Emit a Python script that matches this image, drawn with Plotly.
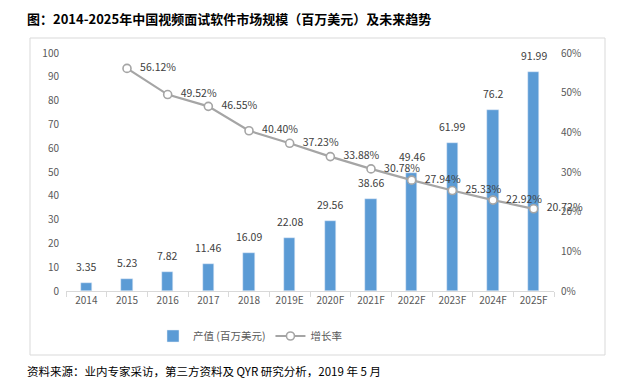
import plotly.graph_objects as go

categories = ["2014", "2015", "2016", "2017", "2018", "2019E", "2020F",
              "2021F", "2022F", "2023F", "2024F", "2025F"]
output_values = [3.35, 5.23, 7.82, 11.46, 16.09, 22.08, 29.56, 38.66, 49.46, 61.99, 76.2, 91.99]
growth_categories = categories[1:]
growth_pct = [56.12, 49.52, 46.55, 40.40, 37.23, 33.88, 30.78, 27.94, 25.33, 22.92, 20.72]
bar_labels = ["3.35", "5.23", "7.82", "11.46", "16.09", "22.08", "29.56", "38.66",
              "49.46", "61.99", "76.2", "91.99"]

title_text = "图：2014-2025年中国视频面试软件市场规模（百万美元）及未来趋势"
source_text = "资料来源：业内专家采访，第三方资料及 QYR 研究分析，2019 年 5 月"

FONT = "Noto Sans CJK SC"
OFF = 8  # page body margin
W, H = 640 - 2 * OFF, 392 - 2 * OFF
# plot area in page pixels
PL, PR, PT, PB = 66, 554, 53, 291
L, R, T, B = PL - OFF, W - (PR - OFF), PT - OFF, H - (PB - OFF)
pw, ph = PR - PL, PB - PT


def px(x):
    return (x - PL) / pw


def py(y):
    return (PB - y) / ph


fig = go.Figure()
fig.add_trace(go.Bar(
    x=categories, y=output_values, name="产值 (百万美元)",
    marker=dict(color="#5B9BD5"), width=0.28,
    yaxis="y",
))
fig.add_trace(go.Scatter(
    x=growth_categories, y=growth_pct, name="增长率",
    mode="lines+markers+text",
    line=dict(color="#A5A5A5", width=2.2),
    marker=dict(size=8, color="white", line=dict(color="#A5A5A5", width=1.6)),
    text=[f"   {v:.2f}%" for v in growth_pct], textposition="middle right",
    textfont=dict(size=10.5, color="#404040", family=FONT),
    cliponaxis=False, yaxis="y2",
))

annotations = [
    dict(x=i, y=v, xref="x", yref="y", text=t, showarrow=False,
         yanchor="bottom", yshift=7,
         font=dict(size=10.5, color="#404040", family=FONT))
    for i, (v, t) in enumerate(zip(output_values, bar_labels))
]
annotations += [
    dict(text=f"<b>{title_text}</b>", xref="paper", yref="paper",
         x=px(25), y=py(18), xanchor="left", yanchor="middle", showarrow=False,
         font=dict(size=13, color="#000000", family=FONT)),
    dict(text=source_text, xref="paper", yref="paper",
         x=px(25), y=py(371), xanchor="left", yanchor="middle", showarrow=False,
         font=dict(size=11.5, color="#000000", family=FONT)),
]

fig.update_layout(
    width=W, height=H,
    margin=dict(l=L, r=R, t=T, b=B, pad=0),
    paper_bgcolor="white", plot_bgcolor="white",
    font=dict(family=FONT, color="#595959", size=10),
    bargap=0.0,
    xaxis=dict(
        type="category", categoryorder="array", categoryarray=categories,
        range=[-0.5, len(categories) - 0.5],
        showgrid=False, showline=True, linecolor="#D9D9D9",
        ticks="outside", tickson="boundaries", ticklen=5, tickcolor="#D9D9D9",
        tickfont=dict(size=10, color="#595959"), automargin=False,
    ),
    yaxis=dict(
        range=[0, 100], dtick=10, showgrid=False, showline=False, zeroline=False,
        tickfont=dict(size=10, color="#595959"), ticklabelstandoff=6, automargin=False,
    ),
    yaxis2=dict(
        range=[0, 60], dtick=10, ticksuffix="%", overlaying="y", side="right",
        showgrid=False, showline=False, zeroline=False,
        tickfont=dict(size=10, color="#595959"), ticklabelstandoff=6, automargin=False,
    ),
    legend=dict(
        orientation="h", x=px(250), xanchor="center", y=py(336), yanchor="middle",
        font=dict(size=10.5, color="#595959"), itemwidth=30, tracegroupgap=0,
    ),
    showlegend=True,
    shapes=[dict(
        type="rect", xref="paper", yref="paper",
        x0=px(30), x1=px(605), y0=py(355), y1=py(38),
        line=dict(color="#D9D9D9", width=1), fillcolor="rgba(0,0,0,0)", layer="below",
    )],
    annotations=annotations,
)

fig.write_html("out.html")
